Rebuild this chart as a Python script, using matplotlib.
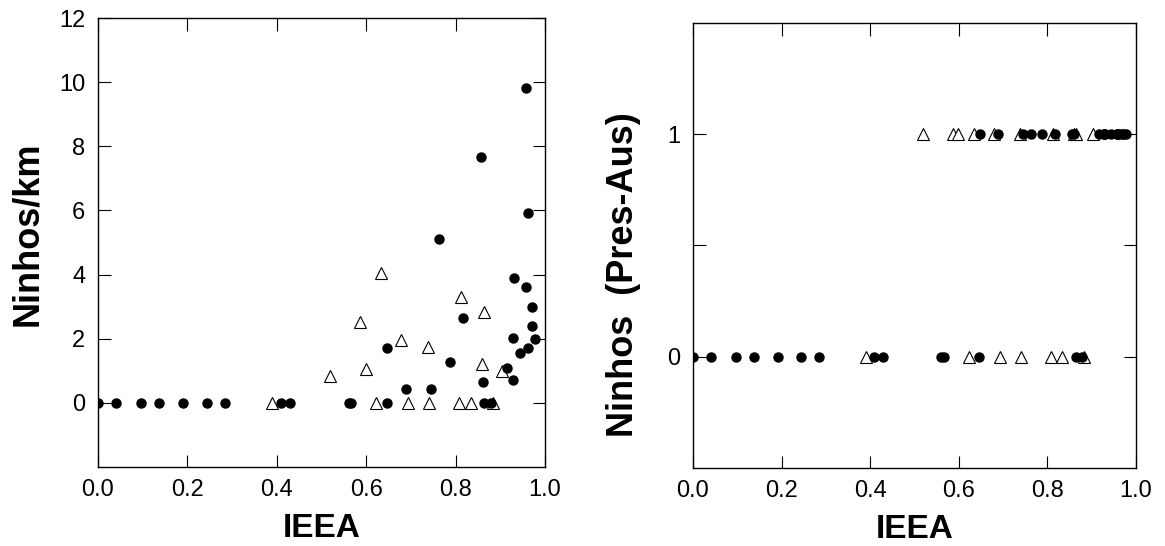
import numpy as np
import matplotlib
matplotlib.use('Agg')
import matplotlib.pyplot as plt

plt.rcParams['font.family'] = ['Liberation Sans', 'DejaVu Sans']

# filled circles: IEEA and nests per km
dot_x = [0.0, 0.041, 0.097, 0.137, 0.191, 0.244, 0.285, 0.409, 0.429, 0.561, 0.566,
         0.646, 0.864, 0.879,
         0.647, 0.689, 0.744, 0.764, 0.787, 0.817, 0.856, 0.861, 0.916, 0.928, 0.928,
         0.931, 0.943, 0.957, 0.957, 0.961, 0.961, 0.970, 0.970, 0.977]
dot_y = [0, 0, 0, 0, 0, 0, 0, 0, 0, 0, 0,
         0, 0, 0,
         1.72, 0.44, 0.43, 5.11, 1.27, 2.66, 7.67, 0.64, 1.08, 0.70, 2.02,
         3.90, 1.57, 9.83, 3.60, 5.91, 1.70, 3.00, 2.40, 1.98]

# open triangles
tri_x = [0.390, 0.622, 0.693, 0.741, 0.808, 0.834, 0.883,
         0.520, 0.587, 0.599, 0.634, 0.679, 0.739, 0.812, 0.859, 0.864, 0.903]
tri_y = [0, 0, 0, 0, 0, 0, 0,
         0.85, 2.53, 1.05, 4.04, 1.96, 1.73, 3.31, 1.20, 2.84, 0.98]

# presence / absence derived from density
dot_pa = [1 if v > 0 else 0 for v in dot_y]
tri_pa = [1 if v > 0 else 0 for v in tri_y]

xticks = [0.0, 0.2, 0.4, 0.6, 0.8, 1.0]

fig = plt.figure(figsize=(11.65, 5.46), dpi=100)
ax1 = fig.add_axes([0.0841, 0.1447, 0.3837, 0.8223])
ax2 = fig.add_axes([0.5948, 0.1429, 0.3803, 0.8150])


def style(ax):
    for s in ax.spines.values():
        s.set_linewidth(1.0)
        s.set_color('black')
    ax.tick_params(direction='in', length=9, width=0.8, top=True, right=True,
                   labelsize=17, pad=9, colors='black')
    ax.set_xlim(0, 1)
    ax.set_xticks(xticks)
    ax.set_xticklabels(['%.1f' % t for t in xticks])
    ax.set_xlabel('IEEA', fontsize=24, fontweight='bold', labelpad=8)


# left: nests per km
ax1.plot(tri_x, tri_y, '^', ms=8, mfc='white', mec='black', mew=0.8, ls='none')
ax1.plot(dot_x, dot_y, 'o', ms=6.5, mfc='black', mec='black', ls='none')
style(ax1)
ax1.set_ylim(-2, 12)
ax1.set_yticks([0, 2, 4, 6, 8, 10, 12])
ax1.set_ylabel('Ninhos/km', fontsize=26, fontweight='bold')
ax1.yaxis.set_label_coords(-0.119, 0.52)

# right: presence / absence
ax2.plot(tri_x, tri_pa, '^', ms=8, mfc='white', mec='black', mew=0.8, ls='none')
ax2.plot(dot_x, dot_pa, 'o', ms=6.5, mfc='black', mec='black', ls='none')
style(ax2)
ax2.set_ylim(-0.5, 1.5)
ax2.set_yticks([0, 0.5, 1])
ax2.set_yticklabels(['0', '', '1'])
ax2.set_ylabel('Ninhos  (Pres-Aus)', fontsize=26, fontweight='bold')
ax2.yaxis.set_label_coords(-0.117, 0.435)

fig.savefig('out.png', dpi=100)
